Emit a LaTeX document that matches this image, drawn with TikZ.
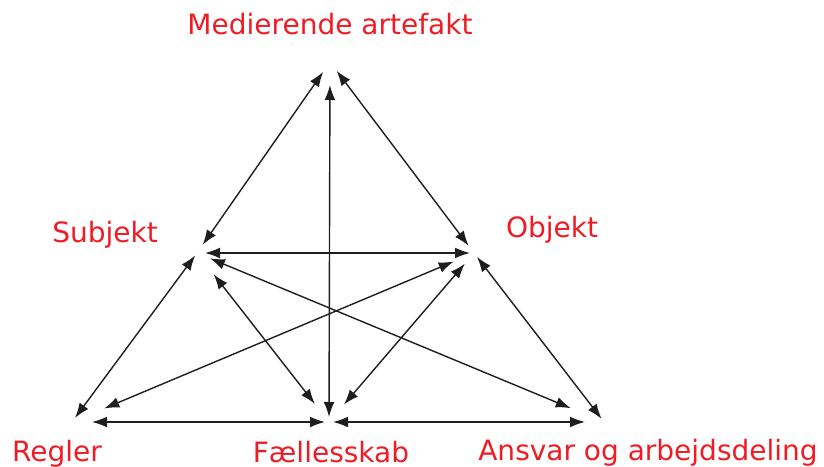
\documentclass[tikz,border=0pt]{standalone}
\usepackage{fontspec}
\setmainfont{DejaVu Sans}
\usepackage{xcolor}
\usetikzlibrary{arrows.meta,positioning}
\definecolor{actRed}{RGB}{238,28,37}
\definecolor{actLine}{RGB}{30,30,30}

\begin{document}
\begin{tikzpicture}[
    x=0.5pt, y=0.5pt,
    lbl/.style={text=actRed, anchor=base, inner sep=0pt, font=\fontsize{14pt}{17pt}\selectfont},
    link/.style={{Latex[length=7.5pt,width=5.4pt]}-{Latex[length=7.5pt,width=5.4pt]}, line width=0.7pt, actLine}
  ]
    \useasboundingbox (0,0) rectangle (824,466);
    % corners of the activity triangle
    \coordinate (T) at (330,404);
    \coordinate (S) at (197,213);
    \coordinate (O) at (474,213);
    \coordinate (R) at (72,44);
    \coordinate (F) at (329,44);
    \coordinate (A) at (604,44);
    % labels
    \node[lbl] (lT) at (330,431) {Medierende artefakt};
    \node[lbl] (lS) at (105,223) {Subjekt};
    \node[lbl] (lO) at (552,228) {Objekt};
    \node[lbl] (lR) at (57,5) {Regler};
    \node[lbl] (lF) at (331,4) {Fællesskab};
    \node[lbl] (lA) at (648,6) {Ansvar og arbejdsdeling};
    % relations
    \draw[link, shorten <=6pt, shorten >=5pt] (T) -- (S);
    \draw[link, shorten <=5.5pt, shorten >=4.5pt] (T) -- (O);
    \draw[link, shorten <=11.5pt, shorten >=2.5pt] (T) -- (F);
    \draw[link, shorten <=4pt, shorten >=2pt] (S) -- (O);
    \draw[link, shorten <=1.5pt, shorten >=2.5pt] (S) -- (R);
    \draw[link, shorten <=13.5pt, shorten >=11.5pt] (S) -- (F);
    \draw[link, shorten <=7pt, shorten >=18pt] (S) -- (A);
    \draw[link, shorten <=11pt, shorten >=17.5pt] (O) -- (R);
    \draw[link, shorten <=7pt, shorten >=11.5pt] (O) -- (F);
    \draw[link, shorten <=2.5pt, shorten >=2pt] (O) -- (A);
    \draw[link, shorten <=10pt, shorten >=2pt] (R) -- (F);
    \draw[link, shorten <=2pt, shorten >=9.5pt] (F) -- (A);
  \end{tikzpicture}
\end{document}
